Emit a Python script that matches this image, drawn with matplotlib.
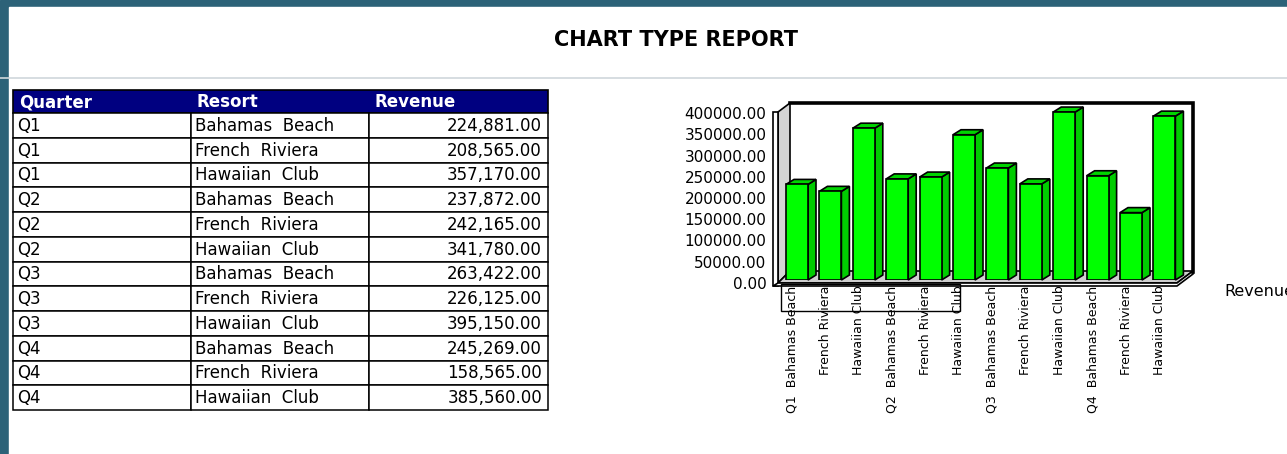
import matplotlib
matplotlib.use('Agg')
import matplotlib.pyplot as plt
from matplotlib.patches import Rectangle, Polygon
from matplotlib.transforms import ScaledTranslation

plt.rcParams['font.family'] = 'DejaVu Sans'

# report data
quarters = ['Q1', 'Q1', 'Q1', 'Q2', 'Q2', 'Q2', 'Q3', 'Q3', 'Q3', 'Q4', 'Q4', 'Q4']
resorts = ['Bahamas Beach', 'French Riviera', 'Hawaiian Club'] * 4
revenue = [224881.00, 208565.00, 357170.00, 237872.00, 242165.00, 341780.00,
           263422.00, 226125.00, 395150.00, 245269.00, 158565.00, 385560.00]
columns = ['Quarter', 'Resort', 'Revenue']
yticks = [0, 50000, 100000, 150000, 200000, 250000, 300000, 350000, 400000]

W, H = 1287, 454
fig = plt.figure(figsize=(W / 100, H / 100), dpi=100)

# page layer in pixel units
page = fig.add_axes([0, 0, 1, 1])
page.set_xlim(0, W)
page.set_ylim(H, 0)
page.axis('off')

teal = '#2c6278'
page.add_patch(Rectangle((0, 0), W, H, color=teal, zorder=0))
page.add_patch(Rectangle((9, 7), W - 9, H - 7, color='white', zorder=1))
page.plot([0, W], [77.5, 77.5], color='#cfd7db', lw=1.2, zorder=2)
page.text(676, 40, 'CHART TYPE REPORT', ha='center', va='center',
          fontsize=15, fontweight='bold', zorder=3)

# table
col_x = [13, 191, 369, 548]
head_top, head_bot = 90, 113
row_h = 24.75
page.add_patch(Rectangle((col_x[0], head_top), col_x[-1] - col_x[0], head_bot - head_top,
                         facecolor='#000080', edgecolor='black', lw=1.2, zorder=3))
for j, name in enumerate(columns):
    page.text(col_x[j] + 6, (head_top + head_bot) / 2 + 0.5, name, color='white',
              fontsize=12, fontweight='bold', ha='left', va='center', zorder=4)

for i in range(len(revenue)):
    top = head_bot + i * row_h
    for j in range(3):
        page.add_patch(Rectangle((col_x[j], top), col_x[j + 1] - col_x[j], row_h,
                                 facecolor='white', edgecolor='black', lw=1.1, zorder=3))
    yc = top + row_h / 2 + 0.5
    page.text(col_x[0] + 4, yc, quarters[i], fontsize=12, ha='left', va='center', zorder=4)
    page.text(col_x[1] + 4, yc, resorts[i].replace(' ', '  '), fontsize=12,
              ha='left', va='center', zorder=4)
    page.text(col_x[3] - 6, yc, f'{revenue[i]:,.2f}', fontsize=12,
              ha='right', va='center', zorder=4)

# chart: one bar slot is 33.4 px, 170 px spans 0..400000
slot, ymax, ypx = 33.4, 400000, 170
left_px, base_px = 780.3, 280
n = len(revenue)
ax = fig.add_axes([left_px / W, (H - base_px) / H, n * slot / W, ypx / H])
ax.set_xlim(-0.5, n - 0.5)
ax.set_ylim(0, ymax)
ax.patch.set_visible(False)
for s in ax.spines.values():
    s.set_visible(False)


def px(x, y):
    # page pixel -> chart data
    return (-0.5 + (x - left_px) / slot, (base_px - y) * ymax / ypx)


# left wall, floor and back wall
wall_kw = dict(edgecolor='black', lw=1.2, clip_on=False, joinstyle='miter')
ax.add_patch(Polygon([px(778, 283), px(778, 112), px(790, 103), px(790, 271)],
                     facecolor='#d4d4d4', zorder=1, **wall_kw))
ax.add_patch(Polygon([px(773, 286), px(773, 112), px(778, 112), px(778, 286)],
                     facecolor='white', zorder=1, **wall_kw))
ax.add_patch(Polygon([px(778, 283), px(1177, 283), px(1193, 271), px(790, 271)],
                     facecolor='#cfcfcf', zorder=1, **wall_kw))
ax.add_patch(Polygon([px(773, 286), px(1177, 286), px(1193, 274), px(1193, 271),
                      px(1177, 283), px(778, 283)],
                     facecolor='white', zorder=1, **wall_kw))
bx = [px(790, 103), px(1193, 103), px(1193, 272)]
ax.plot([p[0] for p in bx], [p[1] for p in bx], color='black', lw=2.6,
        clip_on=False, zorder=1, solid_joinstyle='miter')

# bars with side and top faces
xs = list(range(n))
bw = 22 / slot
ddx, ddy = 8 / slot, 5 * ymax / ypx
ax.bar(xs, revenue, width=bw, color='#00ff00', edgecolor='black', lw=1.2, zorder=3)
for x, v in zip(xs, revenue):
    r, l = x + bw / 2, x - bw / 2
    ax.add_patch(Polygon([(r, 0), (r + ddx, ddy), (r + ddx, v + ddy), (r, v)],
                         facecolor='#00cc00', edgecolor='black', lw=1.2, zorder=2,
                         clip_on=False))
    ax.add_patch(Polygon([(l, v), (l + ddx, v + ddy), (r + ddx, v + ddy), (r, v)],
                         facecolor='#00d400', edgecolor='black', lw=1.2, zorder=2,
                         clip_on=False))

# axis labels
ax.set_yticks(yticks)
ax.set_yticklabels([f'{t:.2f}' for t in yticks], fontsize=11)
ax.tick_params(axis='y', length=0, pad=10)
xlabels = []
for i in range(n):
    if i == 0 or quarters[i] != quarters[i - 1]:
        xlabels.append(quarters[i] + '  ' + resorts[i])
    else:
        xlabels.append(resorts[i])
ax.set_xticks(xs)
ax.set_xticklabels(xlabels, rotation=90, fontsize=9, va='top', ha='center')
ax.tick_params(axis='x', length=0, pad=4)
for lab in ax.get_yticklabels():
    lab.set_transform(lab.get_transform() + ScaledTranslation(0, -0.03, fig.dpi_scale_trans))
for lab in ax.get_xticklabels():
    lab.set_transform(lab.get_transform() + ScaledTranslation(-0.05, 0, fig.dpi_scale_trans))

# group outline under the first labels
x0, y0 = px(781, 311)
x1, y1 = px(960, 284)
ax.add_patch(Rectangle((x0, y0), x1 - x0, y1 - y0, fill=False, edgecolor='black',
                       lw=1, clip_on=False, zorder=4))

# series legend
lx, ly = px(1224, 291)
ax.text(lx, ly, 'Revenue', fontsize=11.5, ha='left', va='center', clip_on=False)

fig.savefig('out.png', dpi=100)
